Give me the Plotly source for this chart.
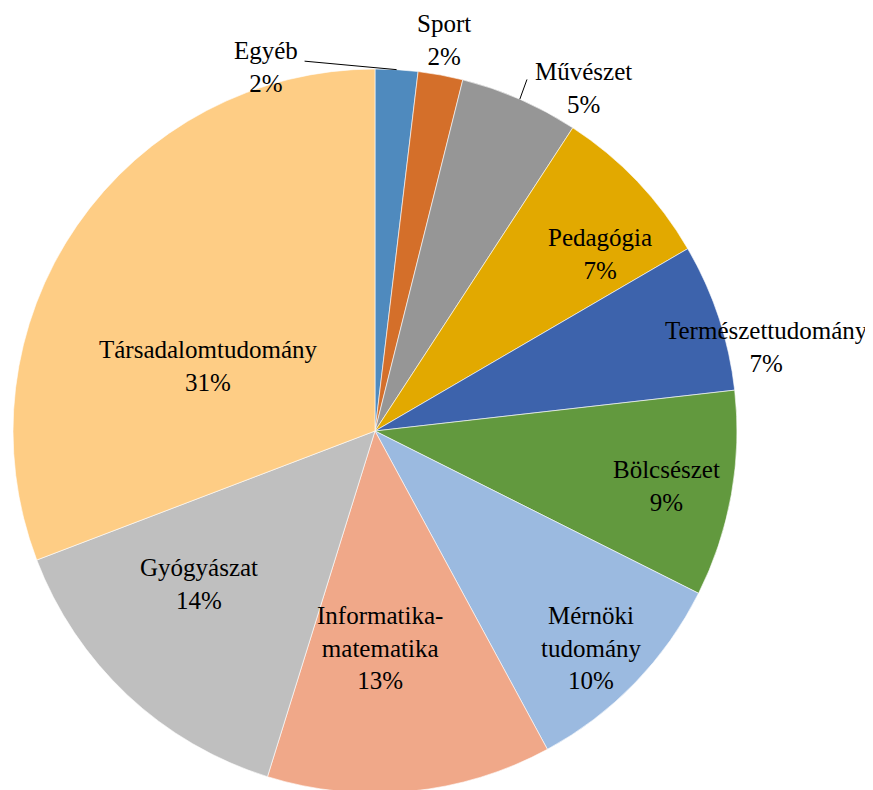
import math
import plotly.graph_objects as go

categories = ["Egyéb", "Sport", "Művészet", "Pedagógia", "Természettudomány",
              "Bölcsészet", "Mérnöki tudomány", "Informatika-matematika",
              "Gyógyászat", "Társadalomtudomány"]
display_names = ["Egyéb", "Sport", "Művészet", "Pedagógia", "Természettudomány",
                 "Bölcsészet", "Mérnöki<br>tudomány", "Informatika-<br>matematika",
                 "Gyógyászat", "Társadalomtudomány"]
values = [1.9, 2.0, 5.3, 7.4, 6.6, 9.2, 9.7, 12.7, 14.4, 30.8]
colors = ["#4F8ABE", "#D46F2A", "#969696", "#E2A900", "#3D63AC",
          "#62993E", "#9BBAE0", "#F0A889", "#BFBFBF", "#FECD85"]

# label placement (radius factor, angle offset in degrees from slice mid-angle)
label_radius = [1.05, 1.097, 1.108, 0.79, 1.105, 0.82, 0.845, 0.60, 0.645, 0.495]
label_dangle = [-20.1, -0.5, 7.7, 5.4, 6.2, 0.6, 1.0, 4.3, 5.7, -13.2]
# leader lines: (start radius factor, start angle offset) or None
leaders = [(1.04, -14.2), None, (1.058, -0.2), None, None, None, None, None, None, None]

W, H = 873, 790
# the page body adds an 8px offset, so the pie box is set 8px up/left
dom_x = [5 / W, 729 / W]
dom_y = [1 - 785 / H, 1 - 61 / H]
FONT = "Liberation Serif, Times New Roman, Liberation Sans, Arial, sans-serif"

fig = go.Figure(go.Pie(
    labels=categories,
    values=values,
    textinfo="none",
    sort=False,
    direction="clockwise",
    rotation=0,
    marker=dict(colors=colors, line=dict(color="white", width=0.6)),
    hoverinfo="label+percent",
    showlegend=False,
    domain=dict(x=dom_x, y=dom_y),
))

dw = (dom_x[1] - dom_x[0]) * W
dh = (dom_y[1] - dom_y[0]) * H
r = min(dw, dh) / 2
cx = (dom_x[0] + dom_x[1]) / 2 * W
cy = H - (dom_y[0] + dom_y[1]) / 2 * H

total = sum(values)
cum = 0.0
annotations = []
shapes = []


def to_paper(px, py):
    return px / W, 1 - py / H


for i, v in enumerate(values):
    mid = (cum + v / 2) / total * 360
    cum += v
    ang = math.radians(mid + label_dangle[i])
    px = cx + r * label_radius[i] * math.sin(ang)
    py = cy - r * label_radius[i] * math.cos(ang)
    x, y = to_paper(px, py)
    pct = round(v / total * 100)
    annotations.append(dict(
        x=x, y=y, xref="paper", yref="paper", xanchor="center", yanchor="middle",
        text=f"{display_names[i]}<br>{pct}%", showarrow=False,
        font=dict(family=FONT, size=25, color="black"),
    ))
    if leaders[i] is not None:
        f, da = leaders[i]
        a0 = math.radians(mid + da)
        a1 = math.radians(mid)
        x0, y0 = to_paper(cx + r * f * math.sin(a0), cy - r * f * math.cos(a0))
        x1, y1 = to_paper(cx + r * math.sin(a1), cy - r * math.cos(a1))
        shapes.append(dict(type="line", xref="paper", yref="paper",
                           x0=x0, y0=y0, x1=x1, y1=y1,
                           line=dict(color="black", width=1)))

fig.update_layout(
    width=W, height=H,
    margin=dict(l=0, r=0, t=0, b=0),
    paper_bgcolor="white",
    plot_bgcolor="white",
    font=dict(family=FONT),
    annotations=annotations,
    shapes=shapes,
)
fig.write_html("out.html")
